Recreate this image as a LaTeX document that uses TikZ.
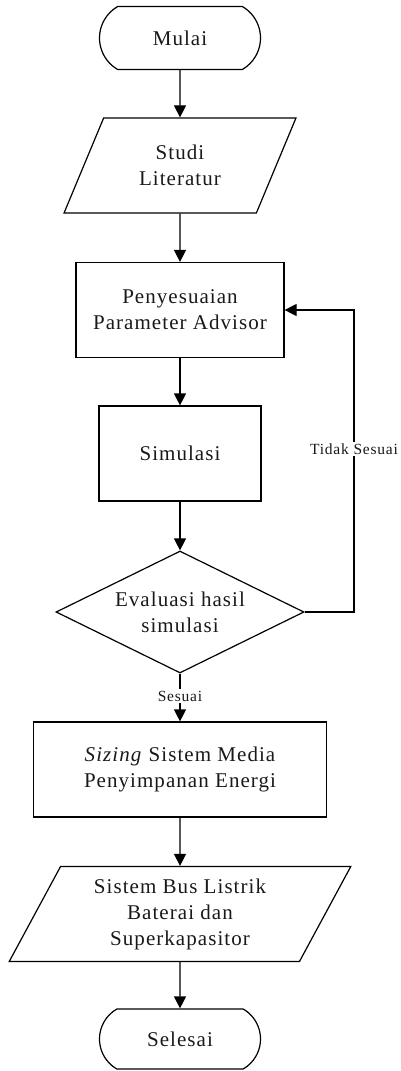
\documentclass[tikz,border=0pt]{standalone}
\usepackage{fontspec}
\setmainfont{Liberation Serif}[LetterSpace=5]
\usetikzlibrary{shapes.geometric,shapes.misc,arrows.meta}
\begin{document}
\begin{tikzpicture}[x=1pt,y=-1pt,
  every node/.style={font=\fontsize{21}{26}\selectfont, align=center, inner sep=0pt, text=black!90},
  base/.style={draw, line width=1.2pt},
  term/.style={base, rounded rectangle, rounded rectangle arc length=120, minimum width=161pt, minimum height=63pt},
  proc/.style={base, rectangle, minimum height=95pt},
  io/.style={base, trapezium, trapezium left angle=62.5, trapezium right angle=117.5, trapezium stretches=true, minimum height=95pt},
  dec/.style={base, diamond, aspect=2, minimum width=248pt, minimum height=122pt},
  arr/.style={line width=1.2pt, -{Triangle[length=12pt,width=12pt]}},
  lbl/.style={font=\fontsize{15.5}{18}\selectfont, fill=white, inner sep=1.5pt}
]
\useasboundingbox (0,0) rectangle (400,1071);
\node[term] (start) at (180,38) {Mulai};
\node[io, minimum width=232pt] (lit) at (180,165.5) {Studi\\Literatur};
\node[proc, minimum width=208pt] (param) at (180,310) {Penyesuaian\\Parameter Advisor};
\node[proc, minimum width=162pt] (sim) at (180,453.5) {Simulasi};
\node[dec] (eval) at (180,612) {Evaluasi hasil\\simulasi};
\node[proc, minimum width=293pt] (size) at (180,769.5) {\textit{Sizing} Sistem Media\\Penyimpanan Energi};
\node[io, minimum width=342pt] (bus) at (180,914) {Sistem Bus Listrik\\Baterai dan\\Superkapasitor};
\node[term, minimum height=60pt] (end) at (180,1039) {Selesai};
\coordinate (c1) at (354,612);
\coordinate (c2) at (354,310);
\draw[arr] (start) -- (lit);
\draw[arr] (lit) -- (param);
\draw[arr] (param) -- (sim);
\draw[arr] (sim) -- (eval);
\draw[arr] (eval) -- node[lbl, pos=0.47] {Sesuai} (size);
\draw[arr] (size) -- (bus);
\draw[arr] (bus) -- (end);
\draw[arr] (eval.east) -- (c1) -- node[lbl, pos=0.54] {Tidak Sesuai} (c2) -- (param.east);
\end{tikzpicture}
\end{document}
